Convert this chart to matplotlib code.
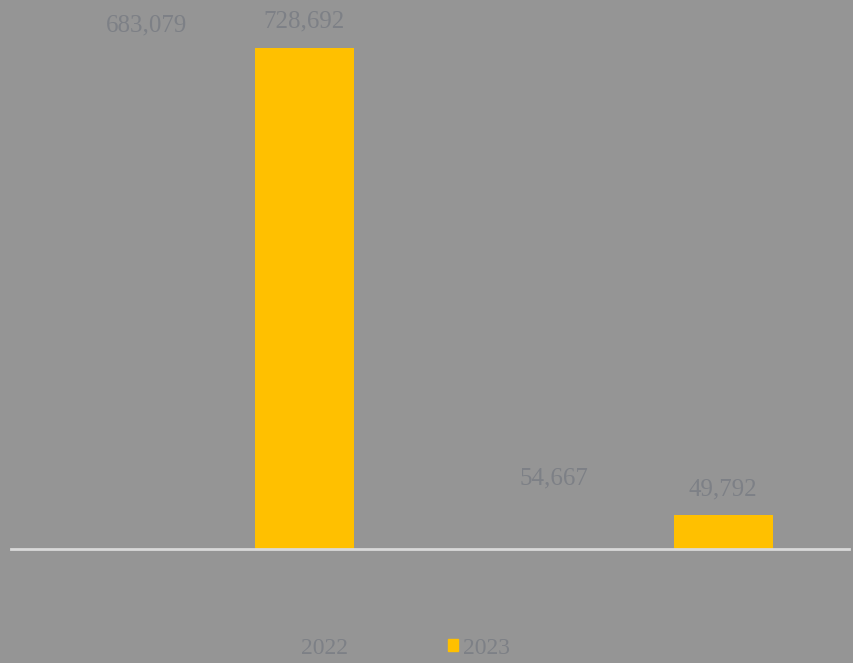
import matplotlib.pyplot as plt
import matplotlib.patches as mpatches
import numpy as np

series = ['2022', '2023']
values_2022 = [683079, 54667]
values_2023 = [728692, 49792]
labels_2022 = ['683,079', '54,667']
labels_2023 = ['728,692', '49,792']

bg = '#959595'
yellow = '#FFC000'
txt = '#7d8086'

fig = plt.figure(figsize=(8.54, 6.63), dpi=100)
fig.patch.set_facecolor(bg)
ax = fig.add_axes([11 / 854, 1 - 549 / 663, 838 / 854, 549 / 663])
ax.set_facecolor(bg)

x = np.arange(len(values_2022))
width = 0.236
off = 0.2
ax.bar(x - off, values_2022, width, color=bg)
ax.bar(x + off, values_2023, width, color=yellow)

ax.set_xlim(-0.5, 1.5)
ax.set_ylim(0, 798500)
for s in ['left', 'right', 'top']:
    ax.spines[s].set_visible(False)
ax.spines['bottom'].set_color('#d9d9d9')
ax.spines['bottom'].set_linewidth(2)
ax.set_xticks([])
ax.set_yticks([])

font = dict(family='Liberation Serif', fontsize=18, color=txt)

# label offsets (points) as placed in the original
offs_2022 = [(7, 39), (-1, 24)]
offs_2023 = [(0, 19), (0, 18)]
for i in range(len(x)):
    ax.annotate(labels_2022[i], (x[i] - off, values_2022[i]), xytext=offs_2022[i],
                textcoords='offset points', ha='center', va='center', **font)
    ax.annotate(labels_2023[i], (x[i] + off, values_2023[i]), xytext=offs_2023[i],
                textcoords='offset points', ha='center', va='center', **font)

handles = [mpatches.Patch(color=bg), mpatches.Patch(color=yellow)]
fig.legend(handles, series, loc='center', bbox_to_anchor=(0.466, 1 - 648 / 663),
           ncol=2, frameon=False, handlelength=0.45, handleheight=0.45,
           handletextpad=0.2, columnspacing=4.2,
           prop={'family': 'Liberation Serif', 'size': 17}, labelcolor=txt)

fig.savefig('out.png', dpi=100, facecolor=bg)
